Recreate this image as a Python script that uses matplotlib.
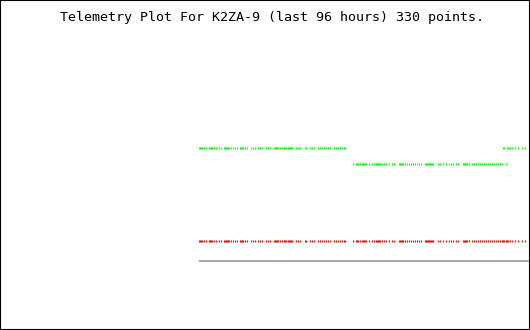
import matplotlib
matplotlib.use('Agg')
import matplotlib.pyplot as plt

# sample times, hours into the 96 hour window
t_a = [36.0, 36.2, 36.4, 36.6, 37.0, 37.3, 37.9, 38.0, 38.2, 38.4, 38.8, 39.1, 39.7, 40.0,
       40.6, 40.8, 40.9, 41.1, 41.3, 41.5, 41.8, 42.2, 42.6, 42.9, 43.5, 43.7, 43.8, 44.0,
       44.4, 44.7, 45.5, 45.8, 46.2, 46.7, 47.1, 47.5, 48.2, 48.5, 48.9, 49.6, 49.8, 50.0,
       50.2, 50.4, 50.7, 51.1, 51.4, 51.6, 51.8, 52.2, 52.4, 52.5, 52.7, 52.9, 53.6, 54.0,
       54.3, 55.2, 55.4, 56.2, 56.5, 56.9, 57.6, 58.0, 58.3, 58.7, 59.1, 59.4, 59.8, 60.5,
       60.9, 61.2, 61.6, 62.0, 62.3, 62.5]
t_b = [63.9, 64.5, 64.7, 64.8, 65.2, 65.6, 65.8, 65.9, 66.1, 66.3, 66.8, 67.4, 67.7, 68.1,
       68.3, 68.5, 68.7, 68.8, 69.2, 69.6, 69.9, 70.5, 71.0, 71.4, 72.3, 72.5, 72.6, 72.8,
       73.0, 73.4, 73.7, 74.1, 74.4, 74.8, 75.2, 75.5, 75.9, 76.3, 77.0, 77.2, 77.3, 77.5,
       77.7, 77.9, 78.1, 78.3, 78.4, 79.3, 79.7, 80.2, 80.8, 81.3, 81.7, 82.1, 82.6, 83.0,
       83.9, 84.0, 84.2, 84.4, 84.6, 85.0, 85.5, 85.9, 86.2, 86.6, 86.9, 87.3, 87.7, 88.0,
       88.4, 88.8, 89.1, 89.5, 89.8, 90.2, 90.6, 90.9, 91.7]
t_c = [91.1, 91.3, 91.8, 92.0, 92.4, 92.7, 93.3, 93.8, 94.6, 95.1]

green_a = 182
green_b = 166
green_c = 182
red_val = 89
gray_val = 69

fig = plt.figure(figsize=(5.3, 3.3), dpi=100)
ax = fig.add_axes([0, 0, 1, 1])

mk = dict(linestyle='none', marker='|', markersize=1.6, markeredgewidth=0.8, antialiased=False)

ax.plot(t_a, [green_a] * len(t_a), color='#00ff00', **mk)
ax.plot(t_b, [green_b] * len(t_b), color='#00ff00', **mk)
ax.plot(t_c, [green_c] * len(t_c), color='#00ff00', **mk)

t_all = t_a + t_b + t_c
ax.plot(t_all, [red_val] * len(t_all), color='#ff0000', **mk)

ax.plot([t_all[0], 96], [gray_val, gray_val], color='#aaaaaa', linewidth=1.44,
        solid_capstyle='butt', snap=False)

ax.set_xlim(0, 96)
ax.set_ylim(0, 330)
ax.set_xticks([])
ax.set_yticks([])
for s in ax.spines.values():
    s.set_color('black')
    s.set_linewidth(1.5)

fig.text(271.5 / 530, 1 - 18 / 330, 'Telemetry Plot For K2ZA-9 (last 96 hours) 330 points.',
         ha='center', va='center', fontsize=9.6, family='DejaVu Sans Mono')

fig.savefig('out.png', dpi=100)
